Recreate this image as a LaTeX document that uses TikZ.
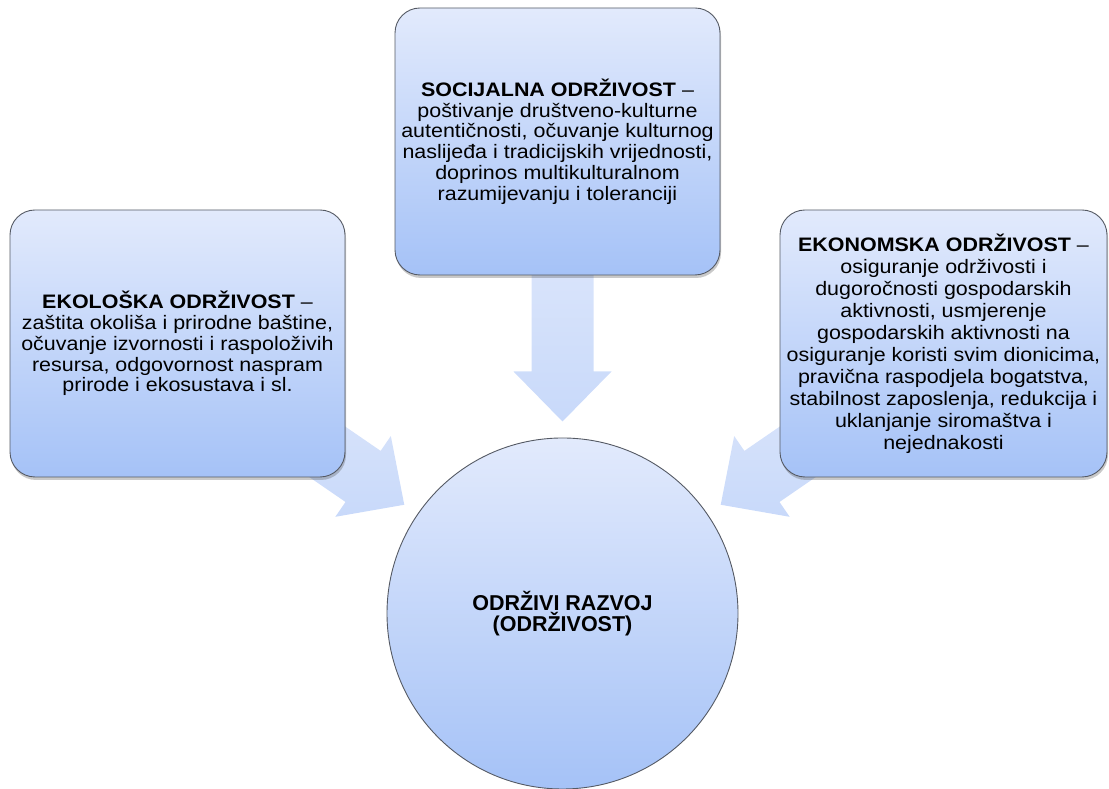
\documentclass[tikz,border=0pt]{standalone}
\usepackage{fontspec}
\setmainfont{Liberation Sans}[FakeStretch=1.1]
\newfontfamily\hubfont{Liberation Sans}
\usetikzlibrary{shadows,calc}
\definecolor{boxtop}{RGB}{226,234,252}
\definecolor{boxbot}{RGB}{165,194,247}
\definecolor{arrtop}{RGB}{223,232,251}
\definecolor{arrbot}{RGB}{200,217,250}
\definecolor{edgecol}{RGB}{85,90,100}
\tikzset{
  txt/.style={align=center, font=\fontsize{19.5}{20.8}\selectfont, text=black},
  boxnode/.style={txt, draw=edgecol, line width=0.9pt, rounded corners=25pt,
    top color=boxtop, bottom color=boxbot, inner sep=0pt,
    drop shadow={shadow xshift=1pt, shadow yshift=-3pt, opacity=0.3, fill=black!70}},
  hubnode/.style={txt, circle, draw=edgecol, line width=0.9pt, inner sep=0pt,
    top color=boxtop, bottom color=boxbot, minimum size=351pt,
    font=\hubfont\fontsize{21.5}{21.7}\selectfont\bfseries},
  blockarrowfill/.style={top color=arrtop, bottom color=arrbot, draw=none},
}
\newcommand\blockarrow[2]{%
  \begin{scope}[shift={(#1.center)}, rotate=#2]
    \shade[blockarrowfill] (192,0) -- (242,49) -- (242,31) -- (400,31) --
      (400,-31) -- (242,-31) -- (242,-49) -- cycle;
  \end{scope}}
\begin{document}
\begin{tikzpicture}[x=1pt,y=1pt]
\useasboundingbox (0,0) rectangle (1109,789);
\node[hubnode] (hub) at (562.5,175.5) {ODRŽIVI RAZVOJ\\(ODRŽIVOST)};
\blockarrow{hub}{90}
\blockarrow{hub}{145.5}
\blockarrow{hub}{34.5}
\node[boxnode, minimum width=325pt, minimum height=267pt] (soc) at (557.5,647.5)
  {\textbf{SOCIJALNA ODRŽIVOST} –\\poštivanje društveno-kulturne\\autentičnosti, očuvanje kulturnog\\naslijeđa i tradicijskih vrijednosti,\\doprinos multikulturalnom\\razumijevanju i toleranciji};
\node[boxnode, minimum width=335pt, minimum height=267pt] (eko) at (177.5,445.5)
  {\textbf{EKOLOŠKA ODRŽIVOST} –\\zaštita okoliša i prirodne baštine,\\očuvanje izvornosti i raspoloživih\\resursa, odgovornost naspram\\prirode i ekosustava i sl.};
\node[boxnode, minimum width=327pt, minimum height=267pt,
      font=\fontsize{19.5}{22}\selectfont] (ekon) at (943.5,445.5)
  {\textbf{EKONOMSKA ODRŽIVOST} –\\osiguranje održivosti i\\dugoročnosti gospodarskih\\aktivnosti, usmjerenje\\gospodarskih aktivnosti na\\osiguranje koristi svim dionicima,\\pravična raspodjela bogatstva,\\stabilnost zaposlenja, redukcija i\\uklanjanje siromaštva i\\nejednakosti};
\end{tikzpicture}
\end{document}
